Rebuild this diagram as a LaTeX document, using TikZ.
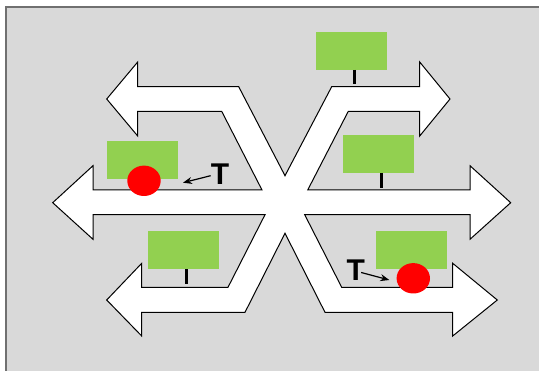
\documentclass[tikz,border=0pt]{standalone}
\usepackage{fontspec}
\setmainfont{Liberation Sans}
\usetikzlibrary{arrows.meta,shapes.geometric}
\definecolor{bggray}{HTML}{D9D9D9}
\definecolor{framegray}{HTML}{707070}
\definecolor{boxgreen}{HTML}{92D050}
\begin{document}
\begin{tikzpicture}[x=1pt,y=-1pt,
  greenbox/.style={fill=boxgreen,draw=none,inner sep=0pt,minimum width=71pt,minimum height=37.7pt},
  reddot/.style={ellipse,fill=red,draw=none,inner sep=0pt,minimum width=33.4pt,minimum height=30.4pt},
  stem/.style={line width=3pt,black},
  tlabel/.style={font=\bfseries\fontsize{30}{30}\selectfont,inner sep=0pt},
  tarrow/.style={line width=1.2pt,-{Stealth[length=9pt,width=7pt]}},
  outline/.style={fill=white,draw=black,line width=1pt,line join=miter}]
\useasboundingbox (0,0) rectangle (539,371);
\begin{scope}
\clip (0,0) rectangle (539,371);
\draw[fill=bggray,draw=framegray,line width=1.5pt] (6,7) rectangle (560,390);
\end{scope}
% the white six-armed arrow shape
\draw[outline]
 (106.7,99) -- (137.7,62) -- (137.7,86.7) -- (238.7,86.7) -- (285,175.7)
 -- (331.7,86.7) -- (419.7,86.7) -- (419.7,62) -- (450,99) -- (419.7,136)
 -- (419.7,111.3) -- (348.3,111.3) -- (307.7,190) -- (470,190) -- (470,165.7)
 -- (510.7,202.7) -- (470,239.3) -- (470,214.7) -- (304.7,214.7) -- (341.7,287.3)
 -- (452.7,287.3) -- (452.7,263.3) -- (497.3,300) -- (452.7,336) -- (452.7,312.3)
 -- (325,312.3) -- (285,233.3) -- (245,312.3) -- (141.7,312.3) -- (141.7,336)
 -- (106.7,300) -- (141.7,263.3) -- (141.7,287.3) -- (228,287.3) -- (265,214.7)
 -- (93,214.7) -- (93,239.3) -- (52.7,202.7) -- (93,165.7) -- (93,190)
 -- (262,190) -- (221.7,111.3) -- (137.7,111.3) -- (137.7,136) -- cycle;
% green boxes
\node[greenbox] (b1) at (351.3,50.8) {};
\node[greenbox] (b2) at (142.3,159.8) {};
\node[greenbox] (b3) at (378.3,153.8) {};
\node[greenbox] (b4) at (183.5,250) {};
\node[greenbox] (b5) at (411.5,250) {};
% stems
\coordinate (s1) at (354.3,84.3);
\coordinate (s3) at (381,188);
\coordinate (s4) at (186,284.3);
\draw[stem] (b1.south -| s1) -- (s1);
\draw[stem] (b3.south -| s3) -- (s3);
\draw[stem] (b4.south -| s4) -- (s4);
% red dots
\node[reddot] (r1) at (144,180.8) {};
\node[reddot] (r2) at (413.3,278.3) {};
% T labels
\node[tlabel] (t1) at (220,174.2) {T};
\node[tlabel] (t2) at (355.8,270.5) {T};
\coordinate (a1) at (183,182.7);
\coordinate (a2) at (389.3,280);
\draw[tarrow] (t1.west) ++(0,1.5) -- (a1);
\draw[tarrow] (t2.east) ++(-4,2) -- (a2);
\end{tikzpicture}
\end{document}
